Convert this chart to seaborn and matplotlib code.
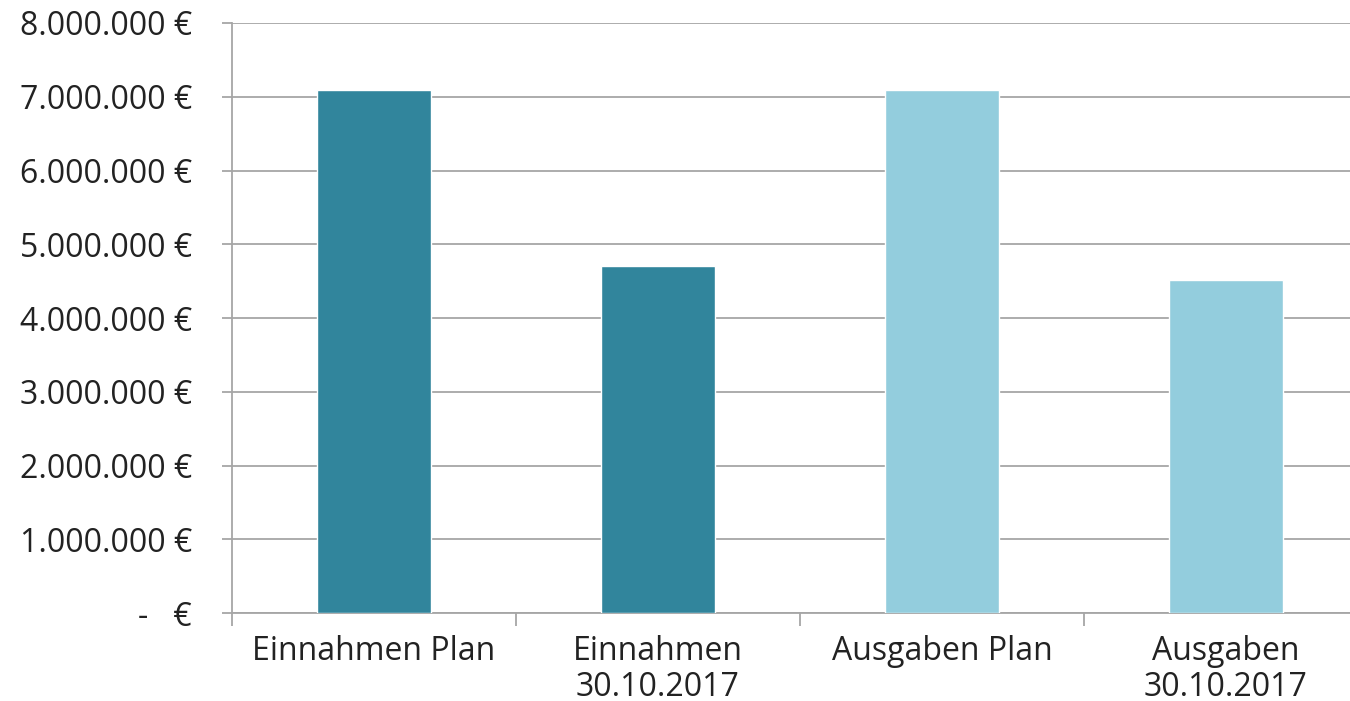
import pandas as pd
import seaborn as sns
import matplotlib.pyplot as plt
from matplotlib.ticker import FixedLocator

# data
categories = ['Einnahmen Plan', 'Einnahmen\n30.10.2017', 'Ausgaben Plan', 'Ausgaben\n30.10.2017']
values = [7090000, 4705000, 7090000, 4515000]
colors = ['#31859C', '#31859C', '#93CDDD', '#93CDDD']
y_ticks = [0, 1000000, 2000000, 3000000, 4000000, 5000000, 6000000, 7000000, 8000000]
y_labels = ['-   €', '1.000.000 €', '2.000.000 €', '3.000.000 €', '4.000.000 €',
            '5.000.000 €', '6.000.000 €', '7.000.000 €', '8.000.000 €']

df = pd.DataFrame({'Kategorie': categories, 'Betrag': values})

sns.set_style('white')
plt.rcParams['font.family'] = ['Open Sans', 'DejaVu Sans']

fig = plt.figure(figsize=(13.5, 7.01), dpi=100)
ax = fig.add_axes([0.1719, 0.1255, 0.8281, 0.8417])

sns.barplot(data=df, x='Kategorie', y='Betrag', hue='Kategorie', palette=colors,
            saturation=1, dodge=False, width=0.4, legend=False, ax=ax, zorder=3)

ax.set_ylim(0, 8000000)
ax.set_xlim(-0.5, 3.437)
ax.set_yticks(y_ticks)
ax.set_yticklabels(y_labels, fontsize=23, color='#222222')
ax.set_xticks(range(len(categories)))
ax.set_xticklabels(categories, fontsize=23, color='#222222', linespacing=1.1)
ax.xaxis.set_minor_locator(FixedLocator([-0.5, 0.5, 1.5, 2.5]))

ax.yaxis.grid(True, color='#A6A6A6', linewidth=1.3, zorder=0)
ax.set_axisbelow(True)
ax.tick_params(axis='y', length=7, width=1.3, color='#A6A6A6', pad=22, left=True)
ax.tick_params(axis='x', which='major', length=0, pad=16)
ax.tick_params(axis='x', which='minor', length=9, width=1.3, color='#A6A6A6', bottom=True)

for side in ['top', 'right']:
    ax.spines[side].set_visible(False)
for side in ['left', 'bottom']:
    ax.spines[side].set_color('#A6A6A6')
    ax.spines[side].set_linewidth(1.3)

ax.set_xlabel('')
ax.set_ylabel('')

fig.savefig('out.png', dpi=100)
